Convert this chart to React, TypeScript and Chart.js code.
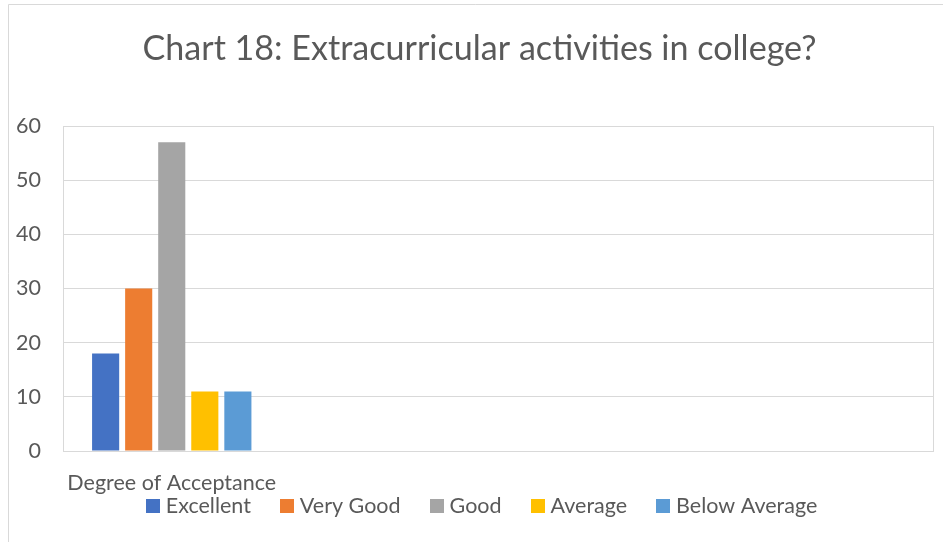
import React, { useEffect, useRef } from "react";
import { Chart, registerables } from "chart.js";

Chart.register(...registerables);

const categories = ["Degree of Acceptance", "", "", ""];
const seriesNames = ["Excellent", "Very Good", "Good", "Average", "Below Average"];
const excellent = [18, null, null, null];
const veryGood = [30, null, null, null];
const good = [57, null, null, null];
const average = [11, null, null, null];
const belowAverage = [11, null, null, null];
const seriesColors = ["#4472C4", "#ED7D31", "#A5A5A5", "#FFC000", "#5B9BD5"];
const yMin = 0;
const yMax = 60;
const yStep = 10;
const titleText = "Chart 18: Extracurricular activities in college?";

const FONT = "Lato";
const TEXT = "#595959";
const GRID = "#D9D9D9";
const LABEL_SIZE = 21.5;
const TITLE_SIZE = 34.1;
const CENTER_X = 480.5;

const framePlugin = {
  id: "frame",
  beforeDraw(chart: any) {
    const ctx = chart.ctx;
    ctx.save();
    ctx.fillStyle = "#ffffff";
    ctx.fillRect(0, 0, chart.width, chart.height);
    ctx.strokeStyle = GRID;
    ctx.lineWidth = 1;
    ctx.beginPath();
    ctx.moveTo(8.5, chart.height);
    ctx.lineTo(8.5, 4.5);
    ctx.lineTo(chart.width, 4.5);
    ctx.stroke();
    ctx.restore();
  },
  beforeDatasetsDraw(chart: any) {
    const { ctx, chartArea } = chart;
    ctx.save();
    ctx.strokeStyle = GRID;
    ctx.lineWidth = 1;
    ctx.strokeRect(
      Math.round(chartArea.left) + 0.5,
      Math.round(chartArea.top) + 0.5,
      Math.round(chartArea.right - chartArea.left),
      Math.round(chartArea.bottom - chartArea.top)
    );
    ctx.restore();
  },
};

const titlePlugin = {
  id: "centeredTitle",
  afterDraw(chart: any) {
    const ctx = chart.ctx;
    ctx.save();
    ctx.font = `${TITLE_SIZE}px ${FONT}`;
    ctx.fillStyle = TEXT;
    ctx.textAlign = "center";
    ctx.textBaseline = "alphabetic";
    ctx.fillText(titleText, CENTER_X - 1, 60);
    ctx.restore();
  },
};

const legendPlugin = {
  id: "bottomLegend",
  afterDraw(chart: any) {
    const ctx = chart.ctx;
    ctx.save();
    ctx.font = `${LABEL_SIZE}px ${FONT}`;
    const box = 14;
    const gapBoxText = 6;
    const gapItems = 29;
    const items = chart.data.datasets.map((d: any) => ({
      label: d.label,
      color: d.backgroundColor,
      w: ctx.measureText(d.label).width,
    }));
    const total =
      items.reduce((s: number, it: any) => s + box + gapBoxText + it.w, 0) +
      gapItems * (items.length - 1);
    let x = CENTER_X + 1 - total / 2;
    const baseline = 513;
    ctx.textBaseline = "alphabetic";
    ctx.textAlign = "left";
    for (const it of items) {
      ctx.fillStyle = it.color;
      ctx.fillRect(Math.round(x), baseline - box, box, box);
      x += box + gapBoxText;
      ctx.fillStyle = TEXT;
      ctx.fillText(it.label, x, baseline);
      x += it.w + gapItems;
    }
    ctx.restore();
  },
};

export default function App() {
  const ref = useRef<HTMLCanvasElement>(null);
  useEffect(() => {
    const values = [excellent, veryGood, good, average, belowAverage];
    const chart = new Chart(ref.current!, {
      type: "bar",
      data: {
        labels: categories,
        datasets: seriesNames.map((name, i) => ({
          label: name,
          data: values[i],
          backgroundColor: seriesColors[i],
          borderWidth: 0,
          barPercentage: 0.82,
          categoryPercentage: 0.76,
        })),
      },
      options: {
        responsive: false,
        animation: false,
        layout: { padding: { left: 0, right: 10, top: 126, bottom: 44 } },
        plugins: {
          tooltip: { enabled: false },
          title: { display: false },
          legend: { display: false },
        },
        scales: {
          x: {
            grid: { display: false, drawTicks: false },
            border: { color: GRID },
            ticks: {
              color: TEXT,
              font: { family: FONT, size: LABEL_SIZE },
              padding: 19,
              maxRotation: 0,
              autoSkip: false,
            },
            afterFit: (s: any) => {
              s.height = 47;
            },
          },
          y: {
            min: yMin,
            max: yMax,
            grid: { color: GRID, drawTicks: false },
            border: { display: false },
            ticks: {
              stepSize: yStep,
              color: TEXT,
              font: { family: FONT, size: LABEL_SIZE },
              padding: 22,
            },
            afterFit: (s: any) => {
              s.width = 63;
            },
          },
        },
      },
      plugins: [framePlugin, titlePlugin, legendPlugin],
    });
    return () => chart.destroy();
  }, []);
  return (
    <div style={{ position: "fixed", left: 0, top: 0, width: 943, height: 542, background: "#fff" }}>
      <canvas ref={ref} width={943} height={542} style={{ width: 943, height: 542 }} />
    </div>
  );
}
